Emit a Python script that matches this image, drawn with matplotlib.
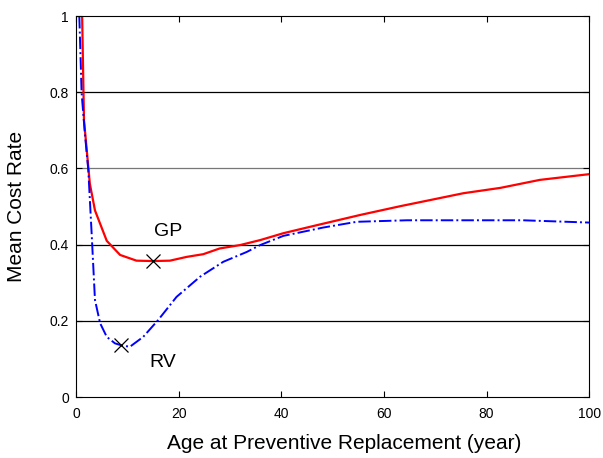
import numpy as np
import matplotlib.pyplot as plt

plt.rcParams['font.family'] = ['Liberation Sans', 'DejaVu Sans']

# GP curve (red, solid)
gp_age = [1.2, 1.56, 2.7, 3.7, 6.0, 8.6, 11.8, 15.0, 18.3, 21.6, 24.8, 28.0, 32.0,
          35.9, 40.4, 46.9, 55.4, 63.2, 69.0, 75.5, 82.7, 90.4, 100.0]
gp_cost = [1.0, 0.727, 0.56, 0.49, 0.41, 0.373, 0.358, 0.357, 0.358, 0.368, 0.375, 0.39, 0.399,
           0.412, 0.43, 0.451, 0.478, 0.501, 0.517, 0.535, 0.549, 0.57, 0.585]

# RV curve (blue, dash-dot)
rv_age = [0.65, 1.1, 1.75, 2.4, 3.05, 3.7, 4.7, 6.0, 7.6, 8.8, 10.5, 13.1, 16.0, 19.6,
          24.2, 28.7, 33.3, 35.9, 40.4, 48.2, 54.7, 64.5, 87.1, 100.0]
rv_cost = [1.0, 0.797, 0.69, 0.596, 0.43, 0.255, 0.194, 0.158, 0.141, 0.136, 0.132, 0.158, 0.202, 0.263,
           0.316, 0.355, 0.381, 0.399, 0.423, 0.445, 0.46, 0.464, 0.464, 0.458]

# optimum points
gp_opt = (15.0, 0.357)
rv_opt = (8.8, 0.136)

fig = plt.figure(figsize=(6.03, 4.58), dpi=100)
ax = fig.add_axes([0.126, 0.133, 0.851, 0.832])

for yv, c in [(0.2, 'black'), (0.4, 'black'), (0.6, '#777777'), (0.8, 'black')]:
    ax.axhline(yv, color=c, lw=0.9, zorder=0)

ax.plot(gp_age, gp_cost, color='red', lw=1.6)
ax.plot(rv_age, rv_cost, color='blue', lw=1.4, linestyle='-.')
ax.plot(*gp_opt, marker='x', color='black', markersize=10, mew=0.9)
ax.plot(*rv_opt, marker='x', color='black', markersize=10, mew=0.9)

ax.text(17.9, 0.434, 'GP', fontsize=14, ha='center', va='center')
ax.text(17.0, 0.09, 'RV', fontsize=14, ha='center', va='center')

ax.set_xlim(0, 100)
ax.set_ylim(0, 1)
ax.set_xticks([0, 20, 40, 60, 80, 100])
ax.set_yticks([0, 0.2, 0.4, 0.6, 0.8, 1])
ax.set_yticklabels(['0', '0.2', '0.4', '0.6', '0.8', '1'])
ax.tick_params(direction='in', top=True, right=True, labelsize=10, length=4)
ax.tick_params(axis='x', pad=7)
ax.tick_params(axis='y', pad=5)
ax.set_xlabel('Age at Preventive Replacement (year)', fontsize=15, va='center')
ax.set_ylabel('Mean Cost Rate', fontsize=15, va='center')
ax.xaxis.set_label_coords(0.523, -0.121)
ax.yaxis.set_label_coords(-0.115, 0.5)

fig.savefig('out.png', dpi=100)
